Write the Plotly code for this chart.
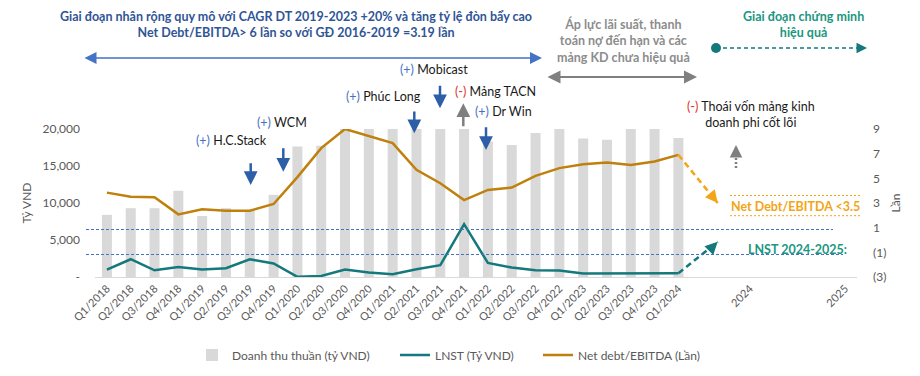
import plotly.graph_objects as go

# ---------------- data ----------------
quarters = ["Q1/2018", "Q2/2018", "Q3/2018", "Q4/2018", "Q1/2019", "Q2/2019", "Q3/2019", "Q4/2019",
            "Q1/2020", "Q2/2020", "Q3/2020", "Q4/2020", "Q1/2021", "Q2/2021", "Q3/2021", "Q4/2021",
            "Q1/2022", "Q2/2022", "Q3/2022", "Q4/2022", "Q1/2023", "Q2/2023", "Q3/2023", "Q4/2023",
            "Q1/2024"]
future_labels = ["2024", "2025"]
future_pos = [27, 31]

revenue = [8400, 9300, 9300, 11650, 8250, 9300, 9000, 11100,
           17650, 17750, 20600, 21500, 21000, 21600, 22000, 23600,
           18300, 17850, 19450, 20500, 18700, 18550, 20300, 20600,
           18800]
lnst = [1000, 2400, 910, 1360, 1000, 1180, 2400, 1820,
        20, 140, 1000, 600, 370, 1040, 1590, 7150,
        1900, 1270, 910, 870, 460, 460, 480, 500,
        500]
nd_ebitda = [3.84, 3.51, 3.46, 2.08, 2.49, 2.37, 2.37, 2.92,
             5.1, 7.45, 9.0, 8.45, 7.86, 5.69, 4.6, 3.24,
             4.06, 4.25, 5.2, 5.83, 6.15, 6.28, 6.09, 6.36,
             6.9]

# projections (start = Q1/2024 value, end = arrow tip)
proj_x = [24, 25.65]
lnst_proj = [500, 4750]
nd_proj = [6.9, 3.0]

y1_ticks = [0, 5000, 10000, 15000, 20000]
y1_text = ["-", "5,000", "10,000", "15,000", "20,000"]
y2_ticks = [-3, -1, 1, 3, 5, 7, 9]
y2_text = ["(3)", "(1)", "1", "3", "5", "7", "9"]

# ---------------- style ----------------
FONT = "Lato"
GRAY_TXT = "#595959"
BAR = "#D9D9D9"
TEAL = "#13797C"
ORANGE = "#BF800C"
ORANGE_L = "#F2A516"
BLUE = "#2F5597"
BLUE_L = "#4472C4"
ARROW_BLUE = "#2E5EA8"
GREEN_T = "#1B9681"
RED = "#E0301E"

OFF = 8  # page body margin
L, R, T, B = 95, 857, 129, 277  # plot area in page pixels
W, H = 920, 376


def px(x):
    return (x - L) / (R - L)


def py(y):
    return (B - y) / (B - T)


idx = list(range(len(quarters)))

fig = go.Figure()
fig.add_trace(go.Bar(x=idx, y=revenue, name="Doanh thu thuần (tỷ VND)", legend="legend",
                     marker=dict(color=BAR, line=dict(width=0)), width=0.42))
fig.add_trace(go.Scatter(x=idx, y=lnst, name="LNST (Tỷ VND)", mode="lines", legend="legend2",
                         line=dict(color=TEAL, width=2.5), cliponaxis=False))
fig.add_trace(go.Scatter(x=idx, y=nd_ebitda, name="Net debt/EBITDA (Lần)", mode="lines", legend="legend3",
                         line=dict(color=ORANGE, width=2.5), yaxis="y2", cliponaxis=False))
fig.add_trace(go.Scatter(x=proj_x, y=lnst_proj, mode="lines", showlegend=False,
                         line=dict(color=TEAL, width=2.5, dash="6px,4px"), cliponaxis=False,
                         hoverinfo="skip"))
fig.add_trace(go.Scatter(x=proj_x, y=nd_proj, mode="lines", showlegend=False, yaxis="y2",
                         line=dict(color=ORANGE_L, width=2.5, dash="6px,4px"), cliponaxis=False,
                         hoverinfo="skip"))

shapes = []
annotations = []

# horizontal dashed reference lines
shapes.append(dict(type="line", xref="paper", yref="paper", x0=px(86), x1=px(833), y0=py(229.5), y1=py(229.5),
                   line=dict(color=BLUE_L, width=1, dash="3px,2px")))
shapes.append(dict(type="line", xref="paper", yref="paper", x0=px(86), x1=px(843), y0=py(254.5), y1=py(254.5),
                   line=dict(color=BLUE_L, width=1, dash="3px,2px")))
# orange dotted frame lines
for yy in (195.5, 215.7):
    shapes.append(dict(type="line", xref="paper", yref="paper", x0=px(730), x1=px(862), y0=py(yy), y1=py(yy),
                       line=dict(color=ORANGE_L, width=1, dash="2px,2px")))

# projection arrow heads
annotations.append(dict(xref="x", yref="y", x=proj_x[1], y=lnst_proj[1], ax=-9, ay=9, text="",
                        showarrow=True, arrowhead=2, arrowsize=1, arrowwidth=2.5, arrowcolor=TEAL))
annotations.append(dict(xref="x", yref="y2", x=proj_x[1], y=nd_proj[1], ax=-8, ay=-10, text="",
                        showarrow=True, arrowhead=2, arrowsize=1, arrowwidth=2.5, arrowcolor=ORANGE_L))

# gray dotted up arrow
shapes.append(dict(type="line", xref="paper", yref="paper", x0=px(736), x1=px(736), y0=py(168), y1=py(151),
                   line=dict(color="#7F7F7F", width=2.5, dash="2px,2px")))
annotations.append(dict(xref="paper", yref="paper", x=px(736), y=py(145), ax=0, ay=8, text="",
                        showarrow=True, arrowhead=2, arrowsize=1, arrowwidth=2.5, arrowcolor="#7F7F7F"))

# top period arrows
annotations.append(dict(xref="paper", yref="paper", x=px(542), y=py(58), ax=-(542 - 83), ay=0, text="",
                        showarrow=True, arrowhead=2, arrowside="end+start", arrowsize=1.6, arrowwidth=1.5,
                        arrowcolor=BLUE_L))
annotations.append(dict(xref="paper", yref="paper", x=px(697), y=py(77), ax=-(697 - 546), ay=0, text="",
                        showarrow=True, arrowhead=2, arrowside="end+start", arrowsize=1.3, arrowwidth=2,
                        arrowcolor="#808080"))
shapes.append(dict(type="line", xref="paper", yref="paper", x0=px(716), x1=px(858), y0=py(48), y1=py(48),
                   line=dict(color=TEAL, width=1.5, dash="4px,3px")))
shapes.append(dict(type="circle", xref="paper", yref="paper", x0=px(711), x1=px(721), y0=py(43), y1=py(53),
                   fillcolor=TEAL, line=dict(color=TEAL, width=0)))
annotations.append(dict(xref="paper", yref="paper", x=px(867), y=py(48), ax=-10, ay=0, text="",
                        showarrow=True, arrowhead=2, arrowsize=1.4, arrowwidth=1.5, arrowcolor=TEAL))

# event arrows: (x, tail_y, tip_y, color)
event_arrows = [(250.7, 161.7, 185, ARROW_BLUE), (283.3, 146.7, 171.7, ARROW_BLUE),
                (414.3, 110, 133.3, ARROW_BLUE), (440, 84.3, 108.3, ARROW_BLUE),
                (463.3, 127.7, 103.3, "#7F7F7F"), (486, 125.7, 150, ARROW_BLUE)]
for xx, t0, t1, c in event_arrows:
    annotations.append(dict(xref="paper", yref="paper", x=px(xx), y=py(t1), ax=0, ay=t0 - t1, text="",
                            showarrow=True, arrowhead=2, arrowsize=1.1, arrowwidth=2.5, arrowcolor=c))


def plus(t):
    return "<span style='color:%s'>(+)</span> %s" % (BLUE_L, t)


def minus(t):
    return "<span style='color:%s'>(-)</span> %s" % (RED, t)


event_texts = [(231, 140, plus("H.C.Stack")), (282, 122.7, plus("WCM")), (383, 96.7, plus("Phúc Long")),
               (434, 70, plus("Mobicast")), (495, 91, minus("Mảng TACN")), (503, 111.7, plus("Dr Win")),
               (751, 114, minus("Thoái vốn mảng kinh<br>doanh phi cốt lõi"))]
for xx, yy, t in event_texts:
    annotations.append(dict(xref="paper", yref="paper", x=px(xx), y=py(yy), text=t, showarrow=False,
                            xanchor="center", yanchor="middle", font=dict(family=FONT, size=12.5, color="#1A1A1A")))

# header texts
annotations.append(dict(xref="paper", yref="paper", x=px(296), y=py(24.5), showarrow=False,
                        text="<b>Giai đoạn nhân rộng quy mô với CAGR DT 2019-2023 +20% và tăng tỷ lệ đòn bẩy cao<br>"
                             "Net Debt/EBITDA> 6 lần so với GĐ 2016-2019 =3.19 lần</b>",
                        xanchor="center", yanchor="middle", font=dict(family=FONT, size=12.5, color=BLUE)))
annotations.append(dict(xref="paper", yref="paper", x=px(623), y=py(40), showarrow=False,
                        text="<b>Áp lực lãi suất, thanh<br>toán nợ đến hạn và các<br>mảng KD chưa hiệu quả</b>",
                        xanchor="center", yanchor="middle", font=dict(family=FONT, size=12.5, color="#8C8C8C")))
annotations.append(dict(xref="paper", yref="paper", x=px(803), y=py(24.5), showarrow=False,
                        text="<b>Giai đoạn chứng minh<br>hiệu quả</b>",
                        xanchor="center", yanchor="middle", font=dict(family=FONT, size=12.5, color=GREEN_T)))
annotations.append(dict(xref="paper", yref="paper", x=px(795), y=py(206.7), showarrow=False,
                        text="<b>Net Debt/EBITDA &lt;3.5</b>",
                        xanchor="center", yanchor="middle", font=dict(family=FONT, size=12.5, color=ORANGE_L)))
annotations.append(dict(xref="paper", yref="paper", x=px(797), y=py(249), showarrow=False,
                        text="<b>LNST 2024-2025:</b>",
                        xanchor="center", yanchor="middle", font=dict(family=FONT, size=12.5, color=GREEN_T)))


def legend_at(page_x):
    return dict(orientation="h", x=px(page_x), xanchor="left", y=py(355), yanchor="middle",
                font=dict(family=FONT, size=12, color=GRAY_TXT), itemwidth=30,
                bgcolor="rgba(0,0,0,0)", borderwidth=0)


fig.update_layout(
    width=W, height=H,
    margin=dict(l=L - OFF, r=W - (R - OFF), t=T - OFF, b=H - (B - OFF), pad=0, autoexpand=False),
    paper_bgcolor="white", plot_bgcolor="white",
    font=dict(family=FONT, size=12, color=GRAY_TXT),
    showlegend=True,
    legend=legend_at(192),
    legend2=legend_at(395),
    legend3=legend_at(538),
    xaxis=dict(range=[-0.5, 31.5], tickvals=idx + future_pos, ticktext=quarters + future_labels,
               tickangle=-45, showgrid=False, zeroline=False, showline=True, linecolor=BAR, linewidth=1,
               ticks="", tickfont=dict(family=FONT, size=11, color=GRAY_TXT), fixedrange=True),
    yaxis=dict(range=[0, 20000], tickvals=y1_ticks, ticktext=y1_text, showgrid=False, zeroline=False,
               showline=False, ticks="", ticklabelstandoff=14,
               tickfont=dict(family=FONT, size=12, color=GRAY_TXT),
               title=dict(text="Tỷ VND", font=dict(family=FONT, size=12, color=GRAY_TXT), standoff=8)),
    yaxis2=dict(range=[-3, 9], tickvals=y2_ticks, ticktext=y2_text, overlaying="y", side="right",
                showgrid=False, zeroline=False, showline=False, ticks="", ticklabelstandoff=15,
                tickfont=dict(family=FONT, size=12, color=GRAY_TXT),
                title=dict(text="Lần", font=dict(family=FONT, size=12, color=GRAY_TXT), standoff=6)),
    shapes=shapes, annotations=annotations,
)

fig.write_html("out.html")
